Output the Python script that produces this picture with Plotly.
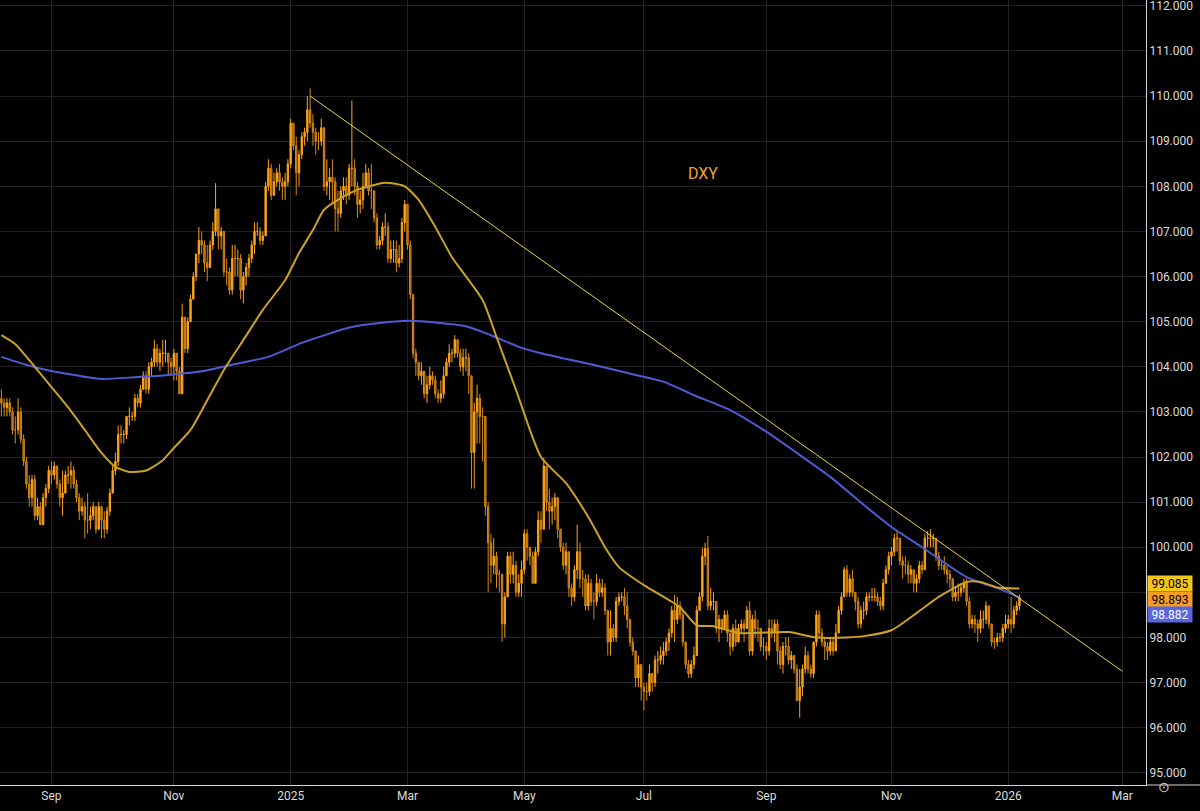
import pandas as pd
import plotly.graph_objects as go


# DXY daily bars, 7 Aug 2024 - 8 Jan 2026 (open of each bar = previous close)
first_open = 103.3

closes = [
    # Aug 2024
    103.2, 103.1, 103.2, 103.0, 102.6, 102.6, 103.0, 102.4, 101.9, 101.4, 101.1, 101.5, 100.7, 100.9, 100.5, 101.1, 101.3, 101.7,
    # Sep 2024
    101.6, 101.8, 101.4, 101.1, 101.2, 101.6, 101.6, 101.7, 101.4, 101.1, 100.8, 100.9, 100.6, 100.6, 100.7, 100.9, 100.4, 100.9, 100.6, 100.4, 100.8,
    # Oct 2024
    101.2, 101.7, 101.9, 102.5, 102.5, 102.5, 102.9, 102.9, 102.9, 103.3, 103.2, 103.5, 103.8, 103.5, 104.0, 104.1, 104.4, 104.1, 104.3, 104.3, 104.3, 104.1, 104.0,
    # Nov 2024
    104.3, 103.9, 103.4, 105.1, 104.4, 105.0, 105.5, 106.0, 106.5, 106.8, 106.7, 106.3, 106.2, 106.7, 107.0, 107.5, 106.9, 107.0, 106.1, 106.1, 105.7,
    # Dec 2024
    106.4, 106.4, 106.4, 105.7, 106.0, 106.2, 106.4, 106.7, 107.0, 107.0, 106.8, 106.9, 108.0, 108.4, 107.8, 108.1, 108.3, 108.1, 108.0, 108.1, 108.5,
    # Jan 2025
    109.4, 108.9, 108.3, 108.7, 109.1, 109.2, 109.7, 109.4, 109.2, 109.0, 109.0, 109.3, 108.0, 108.1, 108.2, 108.1, 107.5, 107.4, 107.9, 108.0, 107.8, 108.4,
    # Feb 2025
    108.4, 108.0, 107.6, 107.7, 108.0, 108.3, 107.9, 107.9, 107.3, 106.7, 106.8, 107.1, 107.1, 106.4, 106.6, 106.6, 106.3, 106.4, 107.2, 107.6,
    # Mar 2025
    106.7, 105.6, 104.3, 104.1, 103.8, 103.9, 103.4, 103.6, 103.8, 103.7, 103.4, 103.3, 103.4, 103.8, 104.1, 104.3, 104.3, 104.6, 104.3, 104.0, 104.2,
    # Apr 2025
    104.2, 103.8, 102.1, 103.0, 103.3, 102.9, 102.9, 100.9, 100.1, 99.6, 99.8, 99.4, 99.4, 98.3, 98.9, 99.8, 99.4, 99.6, 99.0, 99.2, 99.5,
    # May 2025
    100.3, 100.0, 99.8, 99.2, 99.9, 100.6, 100.4, 101.8, 101.0, 100.8, 100.9, 101.1, 100.4, 100.0, 99.6, 99.9, 99.1, 98.9, 99.5, 99.9, 99.3, 99.3,
    # Jun 2025
    98.7, 99.2, 98.8, 98.8, 99.2, 99.0, 99.1, 98.6, 97.9, 98.2, 98.0, 98.8, 98.9, 98.9, 98.7, 98.4, 97.9, 97.7, 97.1, 97.4, 96.9,
    # Jul 2025
    96.8, 96.8, 97.2, 97.0, 97.5, 97.5, 97.6, 97.7, 97.9, 98.1, 98.6, 98.4, 98.7, 98.5, 97.9, 97.4, 97.2, 97.4, 97.6, 98.6, 98.9, 99.8, 99.97,
    # Aug 2025
    98.7, 98.8, 98.8, 98.2, 98.4, 98.2, 98.5, 98.1, 97.8, 98.2, 97.9, 98.2, 98.3, 98.2, 98.6, 97.7, 98.4, 98.2, 98.2, 97.8, 97.8,
    # Sep 2025
    97.7, 98.2, 98.1, 98.3, 97.7, 97.4, 97.8, 97.8, 97.5, 97.6, 97.3, 96.6, 96.9, 97.3, 97.6, 97.3, 97.2, 97.9, 98.5, 98.1, 97.9, 97.8,
    # Oct 2025
    97.7, 97.9, 97.7, 98.1, 98.6, 98.9, 99.5, 99.0, 99.3, 99.0, 98.8, 98.3, 98.6, 98.6, 98.9, 98.9, 98.9, 98.9, 98.8, 98.7, 99.2, 99.5, 99.8,
    # Nov 2025
    99.9, 100.2, 100.2, 99.7, 99.6, 99.6, 99.4, 99.5, 99.2, 99.3, 99.6, 99.5, 100.2, 100.2, 100.2, 100.2, 99.8, 99.6, 99.6, 99.5,
    # Dec 2025
    99.4, 99.3, 98.9, 99.0, 99.0, 99.1, 99.2, 98.8, 98.3, 98.4, 98.3, 98.2, 98.4, 98.4, 98.7, 98.3, 97.9, 97.9, 98.0, 98.0, 98.2, 98.3,
    # Jan 2026
    98.4, 98.3, 98.6, 98.7, 98.893,
]

highs = [
    103.5, 103.3, 103.3, 103.3, 103.1, 102.9, 103.3, 103.1, 102.5, 102.0, 101.6, 101.6, 101.6, 101.1, 101.0, 101.2, 101.4, 101.8,
    101.9, 101.9, 101.8, 101.5, 101.7, 101.7, 101.8, 101.9, 101.8, 101.5, 101.2, 101.1, 101.0, 101.2, 100.9, 101.0, 100.9, 101.0, 100.9, 100.8, 100.9,
    101.3, 101.8, 102.1, 102.7, 102.7, 102.6, 102.9, 103.1, 103.0, 103.4, 103.4, 103.6, 103.9, 103.9, 104.1, 104.2, 104.6, 104.5, 104.4, 104.6, 104.6, 104.3, 104.2,
    104.4, 104.3, 104.0, 105.4, 105.1, 105.1, 105.6, 106.1, 106.5, 107.1, 107.0, 106.8, 106.7, 106.8, 107.2, 108.07, 107.5, 107.1, 107.0, 106.4, 106.2,
    106.7, 106.7, 106.6, 106.5, 106.1, 106.3, 106.5, 106.8, 107.2, 107.2, 107.1, 107.0, 108.1, 108.6, 108.5, 108.3, 108.4, 108.5, 108.2, 108.3, 108.6,
    109.5, 109.4, 109.1, 108.8, 109.2, 109.3, 110.0, 110.17, 109.6, 109.3, 109.2, 109.5, 109.3, 108.6, 108.4, 108.6, 108.2, 107.9, 108.0, 108.2, 108.2, 108.5,
    109.9, 108.6, 108.1, 107.9, 108.3, 108.5, 108.4, 108.5, 107.9, 107.4, 106.9, 107.2, 107.4, 107.2, 106.8, 106.8, 106.8, 106.7, 107.3, 107.7,
    107.6, 106.8, 105.6, 104.4, 104.1, 104.1, 103.9, 103.8, 104.0, 103.9, 103.8, 103.5, 103.7, 104.0, 104.2, 104.5, 104.4, 104.7, 104.6, 104.4, 104.4,
    104.4, 104.3, 103.8, 103.2, 103.6, 103.4, 103.1, 102.9, 101.0, 100.3, 100.2, 99.9, 99.5, 99.4, 99.0, 99.9, 99.9, 99.9, 99.7, 99.4, 99.7,
    100.4, 100.4, 100.0, 99.9, 100.0, 100.8, 100.8, 101.98, 101.8, 101.3, 101.1, 101.2, 100.9, 100.4, 100.1, 100.1, 99.9, 99.2, 99.6, 100.5, 100.1, 99.5,
    99.4, 99.4, 99.3, 99.0, 99.4, 99.3, 99.3, 99.2, 98.6, 98.6, 98.3, 98.9, 99.0, 99.0, 99.1, 99.0, 98.4, 98.0, 97.7, 97.6, 97.4,
    97.0, 97.0, 97.4, 97.2, 97.6, 97.7, 97.8, 97.9, 98.0, 98.2, 98.7, 98.95, 98.9, 98.8, 98.6, 97.9, 97.5, 97.5, 97.8, 98.7, 99.0, 99.99, 100.1,
    100.25, 99.1, 99.0, 98.8, 98.5, 98.4, 98.6, 98.6, 98.1, 98.3, 98.4, 98.3, 98.4, 98.4, 98.7, 98.8, 98.5, 98.6, 98.4, 98.2, 98.0,
    97.9, 98.4, 98.4, 98.4, 98.4, 97.8, 97.9, 98.0, 98.0, 97.7, 97.6, 97.4, 97.3, 97.4, 97.8, 97.7, 97.4, 97.9, 98.6, 98.6, 98.2, 98.0,
    97.9, 98.0, 98.0, 98.3, 98.7, 99.0, 99.56, 99.6, 99.4, 99.5, 99.0, 98.9, 98.7, 98.8, 99.0, 99.0, 99.1, 99.1, 99.0, 98.9, 99.3, 99.6, 99.9,
    100.0, 100.3, 100.36, 100.2, 99.8, 99.8, 99.7, 99.6, 99.5, 99.4, 99.7, 99.7, 100.3, 100.36, 100.4, 100.3, 100.2, 99.9, 99.7, 99.8,
    99.6, 99.5, 99.3, 99.1, 99.2, 99.2, 99.3, 99.3, 98.9, 98.5, 98.5, 98.4, 98.6, 98.6, 98.8, 98.7, 98.3, 98.0, 98.1, 98.1, 98.3, 98.5,
    98.5, 98.9, 98.7, 98.8, 98.95,
]

lows = [
    102.9, 102.9, 102.9, 102.9, 102.5, 102.3, 102.5, 102.3, 101.8, 101.3, 100.9, 100.9, 100.6, 100.6, 100.5, 100.5, 100.9, 101.2,
    101.4, 101.5, 101.3, 100.9, 100.7, 101.2, 101.4, 101.3, 101.3, 101.0, 100.6, 100.7, 100.2, 100.3, 100.4, 100.6, 100.3, 100.4, 100.2, 100.2, 100.3,
    100.7, 101.2, 101.6, 101.8, 102.3, 102.3, 102.4, 102.7, 102.8, 102.8, 103.1, 103.1, 103.5, 103.4, 103.4, 103.8, 104.0, 104.0, 103.9, 104.0, 104.1, 103.8, 103.8,
    103.7, 103.7, 103.4, 103.4, 104.3, 104.3, 105.0, 105.5, 105.9, 106.3, 106.5, 106.1, 105.9, 106.2, 106.6, 106.9, 106.6, 106.6, 106.0, 105.8, 105.6,
    105.6, 106.0, 106.0, 105.5, 105.4, 105.8, 106.0, 106.3, 106.5, 106.9, 106.7, 106.7, 106.9, 107.9, 107.7, 107.8, 108.0, 107.9, 107.7, 107.7, 108.0,
    108.4, 108.8, 107.8, 108.0, 108.6, 108.9, 109.0, 109.3, 108.9, 108.7, 108.8, 108.9, 107.9, 107.8, 107.7, 107.6, 107.0, 107.0, 107.3, 107.7, 107.6, 107.7,
    108.0, 107.8, 107.3, 107.4, 107.5, 108.0, 107.8, 107.5, 107.2, 106.6, 106.6, 106.7, 106.9, 106.3, 106.3, 106.3, 106.1, 106.2, 106.3, 107.0,
    106.6, 105.5, 104.2, 103.8, 103.7, 103.6, 103.3, 103.2, 103.5, 103.6, 103.3, 103.2, 103.2, 103.3, 103.8, 104.0, 104.1, 104.2, 104.2, 103.9, 103.8,
    103.9, 103.4, 101.3, 101.3, 102.3, 102.3, 101.9, 100.7, 99.0, 99.2, 99.4, 99.1, 99.0, 97.9, 98.0, 98.9, 99.2, 99.2, 98.9, 98.9, 98.9,
    99.4, 99.7, 99.6, 99.2, 99.2, 99.8, 100.1, 100.4, 100.8, 100.4, 100.5, 100.6, 100.2, 99.9, 99.5, 99.4, 98.9, 98.7, 98.8, 99.3, 99.1, 98.9,
    98.6, 98.6, 98.7, 98.4, 98.7, 98.9, 98.9, 98.5, 97.6, 97.6, 97.9, 97.9, 98.7, 98.8, 98.5, 98.2, 97.8, 97.6, 96.9, 96.9, 96.6,
    96.38, 96.6, 96.7, 96.8, 96.9, 97.2, 97.4, 97.4, 97.6, 97.7, 98.0, 97.9, 98.3, 98.4, 97.8, 97.3, 97.1, 97.1, 97.3, 97.6, 98.6, 98.8, 99.6,
    98.6, 98.6, 98.6, 98.1, 97.9, 98.1, 98.2, 97.9, 97.6, 97.7, 97.8, 97.9, 98.1, 97.9, 98.2, 97.6, 97.6, 98.0, 97.9, 97.7, 97.6,
    97.5, 97.6, 98.0, 97.9, 97.4, 97.3, 97.2, 97.6, 97.4, 97.3, 97.2, 96.6, 96.22, 96.7, 97.2, 97.2, 97.1, 97.1, 97.8, 98.0, 97.8, 97.5,
    97.5, 97.6, 97.6, 97.7, 98.1, 98.5, 98.9, 98.9, 98.9, 98.9, 98.6, 98.2, 98.2, 98.4, 98.5, 98.8, 98.8, 98.8, 98.7, 98.6, 98.6, 99.2, 99.4,
    99.6, 99.8, 99.9, 99.6, 99.3, 99.4, 99.2, 99.2, 99.0, 99.0, 99.2, 99.4, 99.5, 100.0, 100.0, 100.0, 99.7, 99.5, 99.5, 99.4,
    99.2, 99.1, 98.8, 98.8, 98.8, 98.9, 99.0, 98.7, 98.2, 98.2, 98.1, 97.9, 98.1, 98.2, 98.3, 98.2, 97.8, 97.75, 97.8, 97.9, 97.9, 98.1,
    98.2, 98.1, 98.2, 98.5, 98.6,
]

# days with no bar
holidays = ["2024-12-25", "2025-01-01", "2025-04-18", "2025-12-25", "2026-01-01"]

# moving averages
ma50_dates = ["2024-08-07", "2024-08-14", "2024-08-23", "2024-09-02", "2024-09-10", "2024-09-18",
              "2024-09-26", "2024-10-03", "2024-10-10", "2024-10-18", "2024-10-28", "2024-11-01",
              "2024-11-11", "2024-11-19", "2024-11-27", "2024-12-05", "2024-12-17", "2024-12-30",
              "2025-01-07", "2025-01-14", "2025-01-20", "2025-01-27", "2025-02-05", "2025-02-19",
              "2025-02-28", "2025-03-07", "2025-03-17", "2025-03-25", "2025-04-09", "2025-04-16",
              "2025-04-28", "2025-05-09", "2025-05-22", "2025-06-03", "2025-06-11", "2025-06-18",
              "2025-07-02", "2025-07-14", "2025-07-18", "2025-07-28", "2025-08-05", "2025-08-18",
              "2025-09-11", "2025-09-25", "2025-10-10", "2025-10-20", "2025-11-03", "2025-11-14",
              "2025-11-26", "2025-12-10", "2025-12-17", "2025-12-26", "2026-01-08"]
ma50_values = [104.70, 104.50, 104.00, 103.55, 103.10, 102.60,
               102.09, 101.78, 101.67, 101.70, 101.93, 102.20,
               102.60, 103.26, 103.93, 104.50, 105.26, 105.92,
               106.52, 107.03, 107.48, 107.70, 107.92, 108.08,
               108.00, 107.70, 107.10, 106.43, 105.48, 104.66,
               103.49, 102.00, 101.42, 100.67, 100.00, 99.56,
               99.12, 98.83, 98.67, 98.27, 98.25, 98.10,
               98.12, 98.00, 98.00, 98.03, 98.16, 98.54,
               98.90, 99.23, 99.23, 99.11, 99.085]

ma200_dates = ["2024-08-07", "2024-08-23", "2024-09-10", "2024-09-26", "2024-10-14", "2024-10-30",
               "2024-11-15", "2024-12-03", "2024-12-19", "2025-01-08", "2025-02-03", "2025-03-03",
               "2025-04-01", "2025-04-14", "2025-04-30", "2025-05-09", "2025-06-05", "2025-06-26",
               "2025-07-10", "2025-07-25", "2025-08-13", "2025-08-29", "2025-09-16", "2025-10-02",
               "2025-10-20", "2025-11-03", "2025-11-18", "2025-12-10", "2025-12-30", "2026-01-08"]
ma200_values = [104.22, 103.99, 103.84, 103.73, 103.77, 103.82,
                103.90, 104.06, 104.22, 104.53, 104.88, 105.02,
                104.90, 104.70, 104.42, 104.30, 104.04, 103.82,
                103.67, 103.37, 103.04, 102.60, 102.09, 101.56,
                100.94, 100.45, 100.00, 99.34, 99.05, 98.882]

trend_dates = ["2025-01-13", "2026-03-02"]
trend_values = [110.0, 97.25]

tick_dates = ["2024-09-02", "2024-11-01", "2025-01-02", "2025-03-03", "2025-05-01",
              "2025-07-01", "2025-09-01", "2025-11-03", "2026-01-02", "2026-03-02"]
tick_labels = ["Sep", "Nov", "2025", "Mar", "May", "Jul", "Sep", "Nov", "2026", "Mar"]

# price axis: one line per point, the 99 label sits under the price tags
price_ticks = list(range(95, 113))
price_labels = ["" if p == 99 else f"{p:.3f}" for p in price_ticks]


dates = pd.bdate_range("2024-08-07", "2026-01-08")
dates = dates[~dates.isin(pd.to_datetime(holidays))]
assert len(dates) == len(closes) == len(highs) == len(lows), (len(dates), len(closes), len(highs), len(lows))
opens = [first_open] + closes[:-1]

grid = "#222222"
axis_line = "#d6d6d6"

fig = go.Figure()

fig.add_trace(go.Candlestick(
    x=dates, open=opens, high=highs, low=lows, close=closes,
    increasing=dict(line=dict(color="#ffa31a", width=1), fillcolor="#ffa31a"),
    decreasing=dict(line=dict(color="#d98a14", width=1), fillcolor="#9a5e0e"),
    whiskerwidth=0, showlegend=False, hoverinfo="skip",
))
fig.add_trace(go.Scatter(x=ma200_dates, y=ma200_values, mode="lines",
                         line=dict(color="#4f5bd5", width=2, shape="spline", smoothing=0.6),
                         showlegend=False, hoverinfo="skip"))
fig.add_trace(go.Scatter(x=ma50_dates, y=ma50_values, mode="lines",
                         line=dict(color="#c9a227", width=2, shape="spline", smoothing=0.6),
                         showlegend=False, hoverinfo="skip"))
fig.add_trace(go.Scatter(x=trend_dates, y=trend_values, mode="lines",
                         line=dict(color="#e6d73c", width=1),
                         showlegend=False, hoverinfo="skip"))

fig.update_layout(
    width=1200, height=811,
    margin=dict(l=0, r=54, t=0, b=26),
    paper_bgcolor="#000000", plot_bgcolor="#000000",
    font=dict(family="Roboto", size=12, color="#dcdcdc"),
    showlegend=False,
    xaxis=dict(
        type="date",
        range=["2024-08-06 12:00", "2026-03-12 12:00"],
        rangebreaks=[dict(bounds=["sat", "mon"]), dict(values=holidays)],
        rangeslider=dict(visible=False),
        tickvals=tick_dates, ticktext=tick_labels,
        showgrid=True, gridcolor=grid, zeroline=False,
        showline=True, linecolor=axis_line, linewidth=1, ticks="",
    ),
    yaxis=dict(
        side="right",
        range=[94.73, 112.13],
        tickvals=price_ticks, ticktext=price_labels,
        ticklabeloverflow="allow",
        showgrid=True, gridcolor=grid, zeroline=False,
        showline=True, linecolor=axis_line, linewidth=1, ticks="",
    ),
)

# price tags on the right axis
tags = [
    (ma50_values[-1], "#f4c61a", "#000000", 5),
    (closes[-1], "#f59e25", "#000000", -2),
    (ma200_values[-1], "#5a66e0", "#ffffff", -17),
]
for value, bg, fg, shift in tags:
    fig.add_annotation(x=1, xref="paper", xanchor="left", xshift=1,
                       y=value, yref="y", yanchor="middle", yshift=shift,
                       text=f"{value:.3f}", showarrow=False, bgcolor=bg,
                       width=42, height=13, borderpad=1,
                       font=dict(color=fg, size=12))

fig.add_annotation(x=0.6134, y=0.7936, xref="paper", yref="paper", text="DXY",
                   showarrow=False, font=dict(color="#f0a030", size=16))
fig.add_annotation(x=1.0227, y=-0.0153, xref="paper", yref="paper", text="⊙",
                   showarrow=False, font=dict(color="#cfcfcf", size=14))
fig.add_shape(type="line", xref="paper", yref="paper", x0=1, x1=1.05, y0=0, y1=0,
              line=dict(color=axis_line, width=1))

fig.write_html("out.html", config={"displayModeBar": False},
               post_script="document.body.style.margin='0';document.body.style.background='#000';")
